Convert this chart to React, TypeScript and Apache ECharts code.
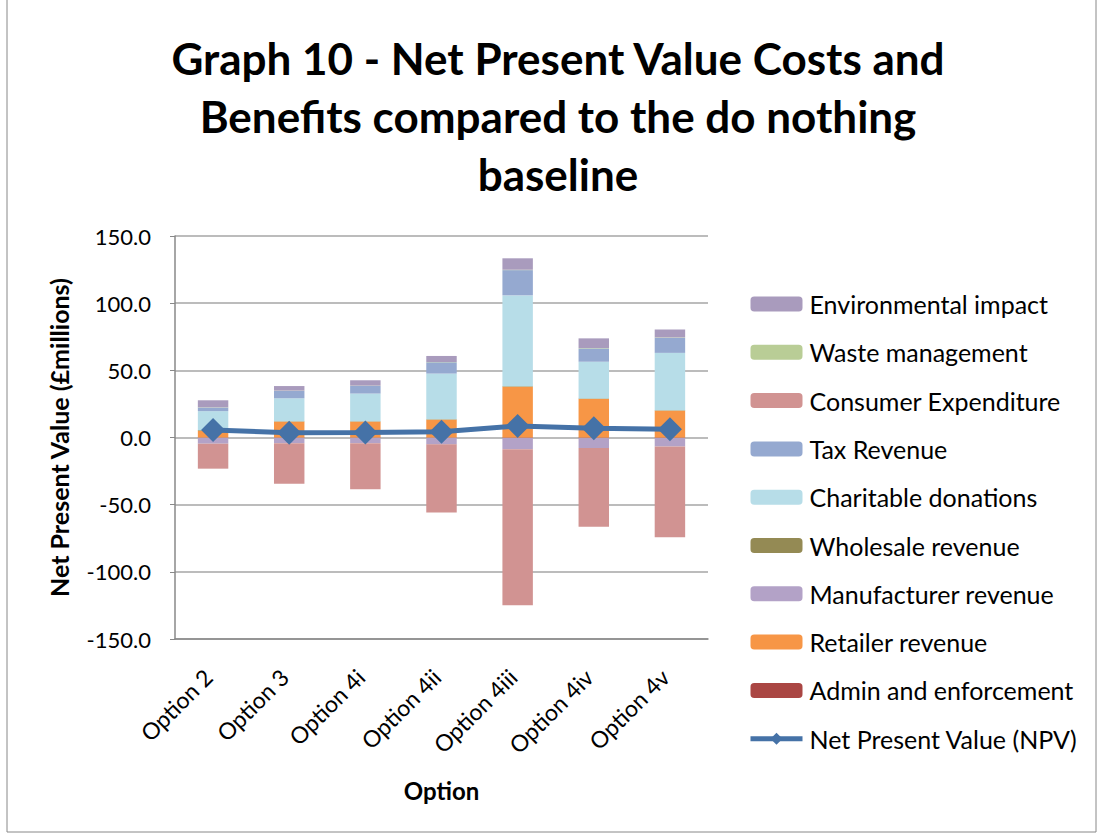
import React, { useEffect, useRef } from "react";
import * as echarts from "echarts";

const categories = ["Option 2", "Option 3", "Option 4i", "Option 4ii", "Option 4iii", "Option 4iv", "Option 4v"];
const adminEnforcement = [-0.3, -0.3, -0.3, -0.3, -0.4, -0.5, -0.4];
const retailerRevenue = [5.0, 11.8, 11.8, 13.3, 37.8, 28.7, 20.0];
const manufacturerRevenue = [-4.3, -3.9, -3.9, -4.8, -8.3, -7.3, -6.3];
const wholesaleRevenue = [0.5, 0.3, 0.3, 0.3, 0.4, 0.4, 0.3];
const charitableDonations = [14.1, 17.1, 20.6, 34.0, 67.6, 27.3, 42.7];
const taxRevenue = [2.7, 5.5, 5.7, 8.4, 18.8, 9.9, 11.2];
const consumerExpenditure = [-18.6, -30.2, -34.4, -50.7, -116.2, -58.6, -67.6];
const wasteManagement = [0.2, 0.2, 0.2, 0.2, 0.3, 0.3, 0.3];
const environmentalImpact = [5.2, 3.4, 4.0, 4.5, 8.5, 7.2, 5.9];
const npv = [5.6, 3.6, 3.8, 4.3, 8.6, 6.8, 6.1];
const yTicks = { min: -150, max: 150, interval: 50 };

const FONT = "Lato, 'Open Sans', sans-serif";

export default function App() {
  const ref = useRef<HTMLDivElement>(null);
  useEffect(() => {
    if (!ref.current) return;
    const chart = echarts.init(ref.current, undefined, { renderer: "svg" });
    const barSeries = [
      { name: "Admin and enforcement", data: adminEnforcement, color: "#AA4643" },
      { name: "Retailer revenue", data: retailerRevenue, color: "#F79646" },
      { name: "Manufacturer revenue", data: manufacturerRevenue, color: "#B3A2C7" },
      { name: "Wholesale revenue", data: wholesaleRevenue, color: "#948A54" },
      { name: "Charitable donations", data: charitableDonations, color: "#B7DDE8" },
      { name: "Tax Revenue", data: taxRevenue, color: "#95A9D0" },
      { name: "Consumer Expenditure", data: consumerExpenditure, color: "#D19392" },
      { name: "Waste management", data: wasteManagement, color: "#B9CD96" },
      { name: "Environmental impact", data: environmentalImpact, color: "#A99BBD" },
    ].map((s) => ({
      type: "bar",
      name: s.name,
      data: s.data,
      stack: "total",
      barWidth: "40%",
      itemStyle: { color: s.color },
    }));
    chart.setOption({
      animation: false,
      backgroundColor: "#ffffff",
      textStyle: { fontFamily: FONT },
      title: {
        text: "Graph 10 - Net Present Value Costs and\nBenefits compared to the do nothing\nbaseline",
        left: 553,
        textAlign: "center",
        top: 24,
        textStyle: { fontFamily: FONT, fontSize: 44, fontWeight: "bold", color: "#000", lineHeight: 58 },
      },
      graphic: [
        {
          type: "rect",
          shape: { x: 7, y: -5, width: 1089, height: 837 },
          style: { fill: "none", stroke: "#888", lineWidth: 1 },
          silent: true,
        },
      ],
      legend: {
        orient: "vertical",
        left: 743,
        top: 285,
        itemWidth: 52,
        itemHeight: 15,
        itemGap: 20.3,
        data: [
          "Environmental impact",
          "Waste management",
          "Consumer Expenditure",
          "Tax Revenue",
          "Charitable donations",
          "Wholesale revenue",
          "Manufacturer revenue",
          "Retailer revenue",
          "Admin and enforcement",
          { name: "Net Present Value (NPV)", lineStyle: { width: 5 } },
        ],
        textStyle: { fontFamily: FONT, fontSize: 25, color: "#000", lineHeight: 28, padding: [0, 0, 0, 2] },
      },
      grid: { left: 175, right: 390, top: 236, bottom: 196, containLabel: false },
      xAxis: {
        type: "category",
        data: categories,
        name: "Option",
        nameLocation: "middle",
        nameGap: 139,
        nameTextStyle: { fontFamily: FONT, fontSize: 24, fontWeight: "bold", color: "#000" },
        axisLine: { onZero: false, lineStyle: { color: "#888", width: 1.5 } },
        axisTick: { show: false },
        axisLabel: {
          rotate: 45,
          fontSize: 23,
          color: "#000",
          fontFamily: FONT,
          margin: 29,
          verticalAlign: "middle",
          padding: [0, 7, 0, 0],
        },
      },
      yAxis: {
        type: "value",
        min: yTicks.min,
        max: yTicks.max,
        interval: yTicks.interval,
        name: "Net Present Value (£millions)",
        nameLocation: "middle",
        nameGap: 104,
        nameTextStyle: { fontFamily: FONT, fontSize: 25, fontWeight: "bold", color: "#000" },
        axisLine: { show: true, lineStyle: { color: "#888", width: 1.5 } },
        axisTick: { show: true, length: 5, lineStyle: { color: "#888" } },
        axisLabel: {
          fontSize: 22,
          color: "#000",
          fontFamily: FONT,
          margin: 24,
          formatter: (v: number) => v.toFixed(1),
        },
        splitLine: { lineStyle: { color: "#A6A6A6", width: 1.5 } },
      },
      series: [
        ...barSeries,
        {
          type: "line",
          name: "Net Present Value (NPV)",
          data: npv,
          color: "#4572A7",
          symbol: "diamond",
          symbolSize: 24,
          lineStyle: { width: 5, color: "#4572A7" },
          itemStyle: { color: "#4572A7" },
          z: 5,
        },
      ],
    });
    return () => chart.dispose();
  }, []);
  return (
    <div
      ref={ref}
      style={{ position: "absolute", left: 0, top: 0, width: 1098, height: 835 }}
    />
  );
}
